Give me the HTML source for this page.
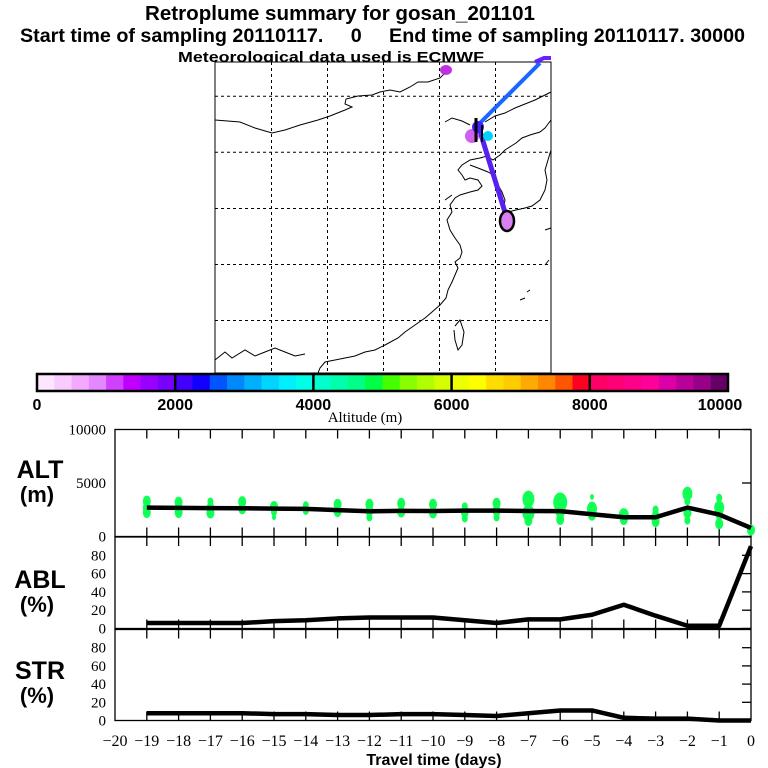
<!DOCTYPE html>
<html><head><meta charset="utf-8"><style>
body{margin:0;background:#fff;width:768px;height:768px;overflow:hidden}
svg{display:block}
.t{font-family:"Liberation Sans",sans-serif;font-weight:bold;fill:#000}
.s{font-family:"Liberation Serif",serif;fill:#000}
</style></head><body>
<svg id="c" width="768" height="768" viewBox="0 0 768 768">
<text class="t" x="145" y="20" font-size="20" textLength="390" lengthAdjust="spacingAndGlyphs">Retroplume summary for gosan_201101</text>
<text class="t" x="20" y="42" font-size="19" textLength="725" lengthAdjust="spacingAndGlyphs" xml:space="preserve">Start time of sampling 20110117.     0     End time of sampling 20110117. 30000</text>
<text class="t" x="178" y="62" font-size="15" textLength="306" lengthAdjust="spacingAndGlyphs">Meteorological data used is ECMWF</text>
<g id="map"></g>
<g id="cbar"></g>
<g id="alt"></g>
<g id="abl"></g>
<g id="str"></g>
<text class="t" x="434" y="765" font-size="16" text-anchor="middle">Travel time (days)</text>
</svg>
<script>
const days=[-19,-18,-17,-16,-15,-14,-13,-12,-11,-10,-9,-8,-7,-6,-5,-4,-3,-2,-1,0];
const altMean=[2700,2680,2650,2640,2600,2580,2460,2360,2400,2380,2420,2420,2380,2370,2080,1800,1800,2700,2050,800];
const ablPct=[6,6,6,6,8,9,11,12,12,12,9,6,10,10,15,26,14,3,3,90];
const strPct=[8,8,8,8,7,7,6,6,7,7,6,5,8,11,11,3,2,2,0,0];
const dotDay=[-19,-19,-19,-18,-18,-18,-17,-17,-17,-16,-16,-15,-15,-15,-14,-14,-13,-13,-12,-12,-12,-11,-11,-10,-10,-9,-9,-9,-8,-8,-8,-7,-7,-7,-6,-6,-6,-5,-5,-5,-4,-4,-3,-3,-3,-2,-2,-2,-2,-1,-1,-1,-1,0];
const dotAlt=[3300,2700,2250,3200,2600,2250,3250,2650,2200,3250,2600,2800,2300,1800,2900,2400,3000,2350,3000,2400,1800,3100,2300,3000,2200,2800,2300,1700,3100,2400,1800,3500,2200,1500,3200,2400,1600,3700,2600,2000,2000,1600,2500,1900,1400,4000,3300,2200,1500,3600,2700,2100,1200,600];
const dotR=[4,4,4,4,4,4,3,4,4,4,4,4,3,2,3,3,4,4,4,4,3,4,4,4,4,3,4,3,4,4,3,6,6,4,7,5,4,2,5,4,5,4,3,4,4,5,3,4,3,3,5,4,4,4];
const cbTicks=[0,2000,4000,6000,8000,10000];
const cbColors=["#ffe6ff","#f9ccff","#f2aaff","#e488ff","#d040ff","#c000ff","#9900ff","#7700ff","#4400ff","#1100ff","#0055ff","#0088ff","#00b0ff","#00d4ff","#00f0ff","#00ffe6","#00ffcc","#00ffaa","#00ff88","#00ff44","#44ff00","#88ff00","#b0ff00","#d4ff00","#eeff00","#ffff00","#ffdd00","#ffcc00","#ffaa00","#ff8800","#ff5500","#ff0022","#ff0066","#ff0077","#ff0088","#ff0099","#dd00aa","#bb0099","#990088","#660066"];
const xTicks=[-20,-19,-18,-17,-16,-15,-14,-13,-12,-11,-10,-9,-8,-7,-6,-5,-4,-3,-2,-1,0];
const pctTicks=[0,20,40,60,80];

const NS="http://www.w3.org/2000/svg";
function el(tag,attrs,parent){const e=document.createElementNS(NS,tag);for(const k in attrs)e.setAttribute(k,attrs[k]);parent.appendChild(e);return e;}
const X0=115,X1=751;
const xs=d=>X0+(d+20)*(X1-X0)/20;

// colorbar
const cb=document.getElementById('cbar');
const CB0=37,CB1=728,CBy=374,CBh=17;
const cx=v=>CB0+v/10000*(CB1-CB0);
cbColors.forEach((c,i)=>{
  const r=el('rect',{x:cx(i*250),y:CBy,width:cx(250)-cx(0)+0.5,height:CBh,fill:c},cb);
  
  
});
el('rect',{x:CB0,y:CBy,width:CB1-CB0,height:CBh,fill:'none',stroke:'#000','stroke-width':2.5},cb);
cbTicks.forEach(v=>{
  if(v>0&&v<10000) el('line',{x1:cx(v),x2:cx(v),y1:CBy,y2:CBy+CBh,stroke:'#000','stroke-width':2.5},cb);
  const t=el('text',{x:cx(v)+(v===10000?-8:0),y:410,'font-size':16,'text-anchor':'middle',class:'t'},cb);
  t.textContent=v;
  
  
});
const at=el('text',{x:365,y:422,'font-size':15,'text-anchor':'middle',class:'s'},cb);
at.textContent='Altitude (m)';



// panels
function panel(g,top,bot,ymax,ticks,vals,lab1,lab2,labY,showDots){
  const ys=v=>bot-v/ymax*(bot-top);
  el('rect',{x:X0,y:top,width:X1-X0,height:bot-top,fill:'none',stroke:'#000','stroke-width':1.3},g);
  xTicks.forEach(d=>{
    if(d===-20||d===0)return;
    el('line',{x1:xs(d),x2:xs(d),y1:top,y2:top+9,stroke:'#000','stroke-width':1.3},g);
    el('line',{x1:xs(d),x2:xs(d),y1:bot,y2:bot-9,stroke:'#000','stroke-width':1.3},g);
  });
  ticks.forEach(v=>{
    el('line',{x1:X1,x2:X1-9,y1:ys(v),y2:ys(v),stroke:'#000','stroke-width':1.3},g);
    const t=el('text',{x:X0-9,y:ys(v)+5,'font-size':15,'text-anchor':'end',class:'s'},g);
    t.textContent=v;
    
    
  });
  if(showDots){
    dotDay.forEach((d,i)=>{
      const c=el('ellipse',{cx:xs(d),cy:ys(dotAlt[i]),rx:dotR[i],ry:dotR[i]*1.4,fill:'#11ff55'},g);
      
      
    });
  }
  const p=el('polyline',{points:days.map((d,i)=>xs(d)+','+ys(vals[i])).join(' '),fill:'none',stroke:'#000','stroke-width':4.5,'stroke-linejoin':'round'},g);
  
  
  const a=el('text',{x:40,y:labY,'font-size':25,'text-anchor':'middle',class:'t'},g);
  a.textContent=lab1;
  
  
  const b=el('text',{x:37,y:labY+24,'font-size':22,'text-anchor':'middle',class:'t'},g);
  b.textContent=lab2;
  
  
}
panel(document.getElementById('alt'),429.5,536.5,10000,[10000,5000,0],altMean,'ALT','(m)',478,true);
panel(document.getElementById('abl'),537,628.5,100,pctTicks,ablPct,'ABL','(%)',588,false);
panel(document.getElementById('str'),629.5,720.5,100,pctTicks,strPct,'STR','(%)',679,false);
const sg=document.getElementById('str');
xTicks.forEach(d=>{
  const t=el('text',{x:xs(d),y:746,'font-size':16,'text-anchor':'middle',class:'s'},sg);
  t.textContent=d===0?'0':'\u2212'+(-d);
  
  
});

// map
const m=document.getElementById('map');
el('rect',{x:215,y:62,width:336,height:311,fill:'#fff',stroke:'#000','stroke-width':1},m);
[271.5,327.5,383.5,439.5,495.5].forEach(x=>el('line',{x1:x,x2:x,y1:62,y2:373,stroke:'#000','stroke-dasharray':'3,3'},m));
[96.3,152.3,208.5,264.5,320.5].forEach(y=>el('line',{x1:215,x2:551,y1:y,y2:y,stroke:'#000','stroke-dasharray':'3,3'},m));
const coast=[
"215,120 240,122 255,128 272,133 285,130 300,125 318,120 330,116 345,110 352,107 345,104 346,99 358,96 372,95 380,92 390,90 400,92 410,87 418,82 428,82 440,78 445,73",
"445,122 452,118 462,121 470,125",
"485,122 495,116 505,113 515,108 525,104 535,100 545,95 551,92",
"551,120 545,128 540,132 530,135 522,138 516,143 505,150 500,155 493,160 487,156 480,158 470,160 462,165 458,170 462,175 465,180 470,178 478,180 482,186 478,190 470,192 460,195 455,198 450,205 452,212 447,220 450,230 455,238 460,245 462,252 460,258 455,262 458,268 455,275 452,282 448,290 446,298 440,305 432,312 425,318 415,325 405,332 398,338 385,345 375,350 365,352 355,356 345,358 335,360 325,362 320,368 318,373",
"470,165 478,168 488,172 495,176 498,185 502,192 505,200 503,210 508,212 516,210 525,208 532,206 540,200 545,190 547,180 545,170 548,160 551,150",
"445,200 452,195",
"455,326 460,320 464,332 462,345 458,350 455,340 454,330",
"215,360 225,352 232,358 245,350 255,356 265,352 275,348 285,352 295,356 305,354",
"520,300 525,298","527,292 530,290","545,230 551,228","545,265 549,260"
];
coast.forEach(c=>el('polyline',{points:c,fill:'none',stroke:'#000','stroke-width':1},m));
el('line',{x1:540,y1:63,x2:478,y2:125,stroke:'#1a66ff','stroke-width':4},m);
el('line',{x1:478,y1:125,x2:508,y2:222,stroke:'#5522ee','stroke-width':5},m);
el('ellipse',{cx:446,cy:70,rx:6,ry:5,fill:'#c030e0'},m);
el('circle',{cx:472,cy:136,r:7,fill:'#d060f0'},m);
el('circle',{cx:488,cy:136,r:5,fill:'#00d4ff'},m);
el('circle',{cx:478,cy:127,r:6,fill:'#4422ff'},m);
el('ellipse',{cx:507,cy:221,rx:7,ry:10,fill:'#d880f0',stroke:'#000','stroke-width':2.5},m);
el('line',{x1:476,y1:118,x2:476,y2:142,stroke:'#000','stroke-width':3},m);
el('line',{x1:482,y1:125,x2:482,y2:142,stroke:'#000','stroke-width':2},m);
el('polyline',{points:'535,62 544,58 551,58',fill:'none',stroke:'#6622ff','stroke-width':4},m);
</script>
</body></html>
